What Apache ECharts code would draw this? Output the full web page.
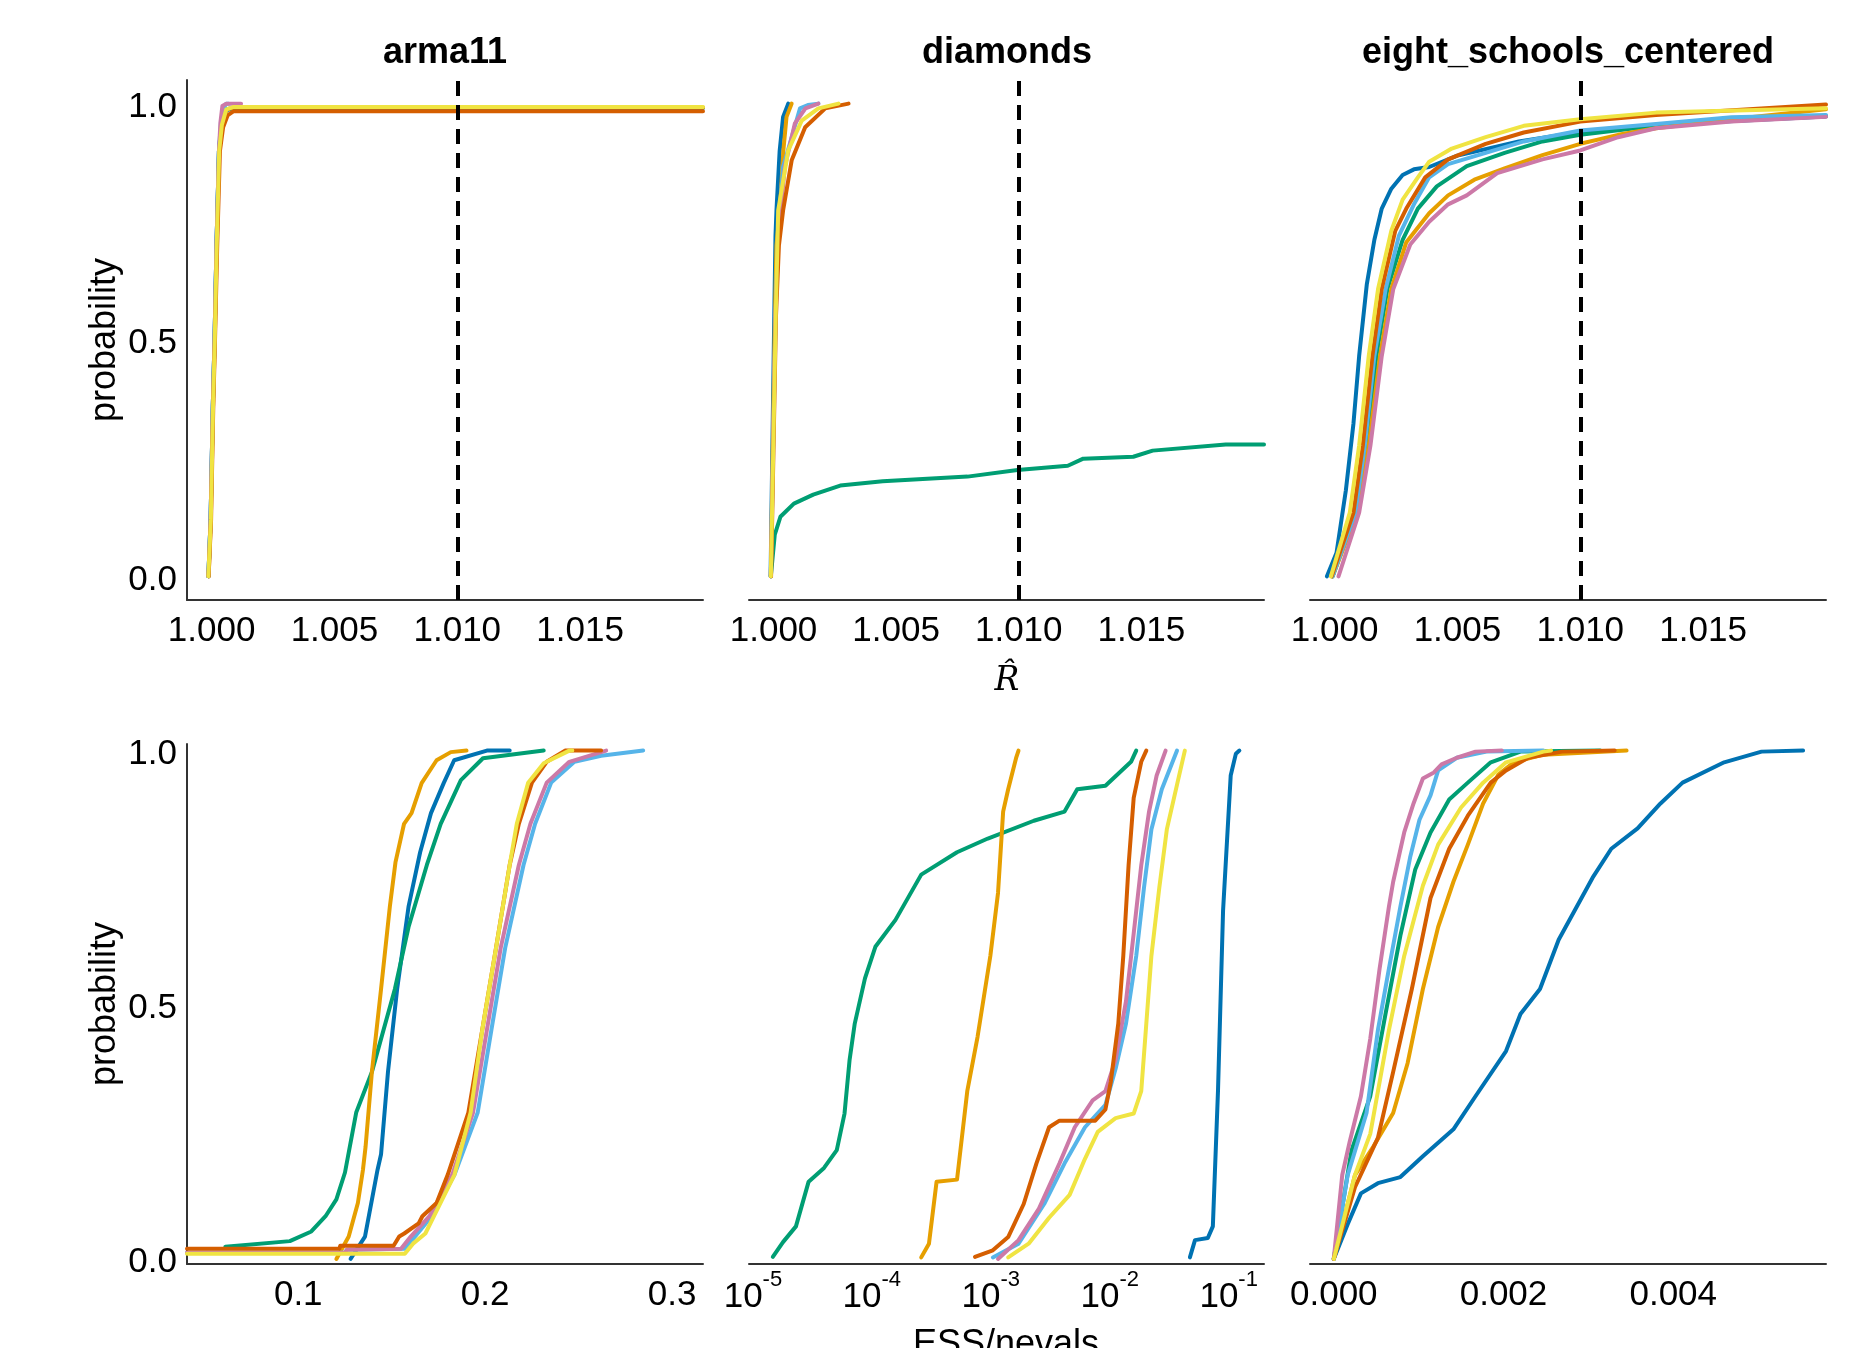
<!DOCTYPE html>
<html><head><meta charset="utf-8">
<script src="https://cdn.jsdelivr.net/npm/echarts/dist/echarts.min.js"></script>
<style>html,body{margin:0;padding:0;background:#fff;}#c{width:1869px;height:1348px;}</style>
</head><body><div id="c"></div><script>
// ---------- DATA (ECDF curves) ----------
const panelTitles = ['arma11', 'diamonds', 'eight_schools_centered'];
const rhatThreshold = 1.01;
const rhatTicks = [1.000, 1.005, 1.010, 1.015];
const essArmaTicks = [0.1, 0.2, 0.3];
const essDiamondsTicks = [1e-5, 1e-4, 1e-3, 1e-2, 1e-1];
const essEightTicks = [0, 0.002, 0.004];
const probTicks = [0, 0.5, 1.0];

// R-hat, arma11
const rhat_arma11_blue = [[0.99987,0],[0.99996,0.12],[1.00005,0.36],[1.00012,0.5],[1.0002,0.7],[1.0003,0.9],[1.0004,0.955],[1.00058,0.985],[1.0009,0.991],[1.02,0.991]];
const rhat_arma11_green = [[0.99987,0],[0.99996,0.12],[1.00005,0.36],[1.00012,0.5],[1.0002,0.7],[1.0003,0.9],[1.0004,0.955],[1.0006,0.988],[1.0009,0.991],[1.0021,0.991]];
const rhat_arma11_orange = [[0.99988,0],[0.99997,0.12],[1.00006,0.36],[1.00013,0.5],[1.00021,0.7],[1.00031,0.9],[1.00041,0.955],[1.0006,0.987],[1.0009,0.992],[1.02,0.992]];
const rhat_arma11_sky = [[0.99987,0],[0.99996,0.12],[1.00005,0.36],[1.00012,0.5],[1.0002,0.7],[1.0003,0.9],[1.00038,0.96],[1.00048,0.99],[1.0006,1.0],[1.0007,1.0]];
const rhat_arma11_pink = [[0.99987,0],[0.99996,0.12],[1.00005,0.36],[1.00012,0.5],[1.0002,0.7],[1.0003,0.9],[1.00036,0.96],[1.00044,0.995],[1.0006,1.0],[1.0012,1.0]];
const rhat_arma11_red = [[0.99988,0],[0.99998,0.12],[1.00007,0.36],[1.00014,0.5],[1.00023,0.7],[1.00034,0.9],[1.00047,0.95],[1.00065,0.975],[1.0009,0.984],[1.02,0.984]];
const rhat_arma11_yellow = [[0.99987,0],[0.99997,0.12],[1.00006,0.36],[1.00013,0.5],[1.00021,0.7],[1.00031,0.9],[1.00042,0.955],[1.0006,0.988],[1.0009,0.993],[1.02,0.993]];

// R-hat, diamonds
const rhat_diamonds_blue = [[0.99988,0],[0.99996,0.3],[1.00003,0.55],[1.00008,0.72],[1.00012,0.774],[1.00025,0.9],[1.00039,0.972],[1.0006,1.0]];
const rhat_diamonds_green = [[0.99989,0],[1.00005,0.088],[1.00028,0.126],[1.00083,0.154],[1.00162,0.173],[1.00272,0.192],[1.00445,0.201],[1.00791,0.211],[1.00995,0.225],[1.012,0.234],[1.01263,0.249],[1.01467,0.253],[1.01546,0.266],[1.01844,0.279],[1.02,0.279]];
const rhat_diamonds_orange = [[0.99989,0],[0.99998,0.3],[1.00006,0.55],[1.00012,0.7],[1.00026,0.774],[1.0004,0.9],[1.00053,0.972],[1.00074,1.0]];
const rhat_diamonds_sky = [[0.99989,0],[0.99999,0.3],[1.00008,0.55],[1.00018,0.72],[1.00039,0.866],[1.00074,0.929],[1.00108,0.99],[1.0014,0.997],[1.00183,1.0]];
const rhat_diamonds_pink = [[0.99989,0],[0.99999,0.3],[1.00008,0.55],[1.0002,0.72],[1.00046,0.866],[1.00087,0.958],[1.0013,0.99],[1.00183,1.0]];
const rhat_diamonds_red = [[0.9999,0],[1.00001,0.3],[1.0001,0.55],[1.00022,0.7],[1.00039,0.774],[1.00074,0.88],[1.00129,0.95],[1.00211,0.99],[1.00306,1.0]];
const rhat_diamonds_yellow = [[0.99989,0],[1.0,0.3],[1.00009,0.55],[1.00019,0.774],[1.0006,0.901],[1.00115,0.964],[1.00183,0.99],[1.00265,1.0]];

// R-hat, eight_schools_centered
const rhat_eight_blue = [[0.99969,0],[1.00008,0.05],[1.00046,0.182],[1.00077,0.324],[1.001,0.466],[1.00131,0.617],[1.00162,0.712],[1.00192,0.778],[1.00231,0.82],[1.00277,0.849],[1.00323,0.861],[1.00385,0.866],[1.005,0.89],[1.0075,0.92],[1.01,0.94],[1.0125,0.952],[1.015,0.96],[1.02,0.973]];
const rhat_eight_green = [[0.99992,0],[1.00085,0.135],[1.00131,0.277],[1.0017,0.466],[1.00215,0.608],[1.00277,0.712],[1.00339,0.778],[1.00416,0.825],[1.00538,0.868],[1.00692,0.896],[1.00846,0.92],[1.01,0.934],[1.01308,0.953],[1.01615,0.967],[1.02,0.974]];
const rhat_eight_orange = [[0.99992,0],[1.00093,0.135],[1.00139,0.277],[1.00185,0.466],[1.00231,0.608],[1.00292,0.707],[1.00385,0.768],[1.00462,0.806],[1.00569,0.839],[1.00692,0.863],[1.00846,0.891],[1.01,0.915],[1.01154,0.934],[1.01308,0.948],[1.01615,0.967],[1.02,0.988]];
const rhat_eight_sky = [[0.99992,0],[1.00085,0.135],[1.00123,0.277],[1.00162,0.466],[1.00208,0.608],[1.00262,0.721],[1.00323,0.787],[1.00385,0.844],[1.00462,0.872],[1.00615,0.896],[1.0077,0.92],[1.01,0.943],[1.01308,0.957],[1.01615,0.971],[1.02,0.976]];
const rhat_eight_pink = [[1.00016,0],[1.001,0.135],[1.00146,0.277],[1.00192,0.466],[1.00239,0.608],[1.00308,0.702],[1.00385,0.75],[1.00462,0.787],[1.00538,0.806],[1.00662,0.853],[1.00846,0.882],[1.01,0.901],[1.01154,0.929],[1.01308,0.948],[1.01615,0.962],[1.02,0.972]];
const rhat_eight_red = [[0.99988,0],[1.00077,0.135],[1.00115,0.277],[1.00154,0.466],[1.00192,0.608],[1.00247,0.731],[1.00292,0.778],[1.00369,0.844],[1.00462,0.882],[1.00615,0.915],[1.0077,0.939],[1.01,0.962],[1.01308,0.976],[1.02,0.998]];
const rhat_eight_yellow = [[0.99985,0],[1.00062,0.135],[1.001,0.277],[1.00139,0.466],[1.00177,0.608],[1.00231,0.731],[1.00277,0.797],[1.00339,0.844],[1.00385,0.877],[1.00477,0.905],[1.00615,0.929],[1.0077,0.953],[1.01,0.967],[1.01308,0.981],[1.02,0.99]];

// ESS/nevals, arma11
const ess_arma11_blue = [[0.128,0],[0.1357,0.044],[0.1424,0.175],[0.1443,0.206],[0.148,0.368],[0.1529,0.531],[0.159,0.693],[0.1652,0.8],[0.171,0.877],[0.1778,0.936],[0.1834,0.981],[0.2009,1.0],[0.2131,1.0]];
const ess_arma11_green = [[0.061,0.024],[0.0955,0.035],[0.107,0.054],[0.1146,0.084],[0.1204,0.117],[0.125,0.17],[0.131,0.288],[0.1394,0.368],[0.1517,0.531],[0.159,0.653],[0.1688,0.775],[0.1762,0.856],[0.187,0.942],[0.1988,0.985],[0.2313,1.0]];
const ess_arma11_orange = [[0.1204,0],[0.127,0.044],[0.1319,0.11],[0.1346,0.175],[0.136,0.22],[0.1394,0.368],[0.1443,0.531],[0.149,0.693],[0.152,0.78],[0.1566,0.856],[0.1606,0.877],[0.166,0.936],[0.174,0.981],[0.1816,0.997],[0.19,1.0]];
const ess_arma11_sky = [[0.0405,0.012],[0.125,0.012],[0.126,0.018],[0.157,0.02],[0.1625,0.044],[0.1714,0.084],[0.1836,0.166],[0.196,0.288],[0.2033,0.45],[0.2107,0.612],[0.2205,0.775],[0.2267,0.856],[0.2353,0.937],[0.2477,0.978],[0.262,0.99],[0.2845,1.0]];
const ess_arma11_pink = [[0.0405,0.012],[0.125,0.012],[0.126,0.018],[0.155,0.02],[0.1602,0.044],[0.1702,0.084],[0.1824,0.166],[0.1935,0.288],[0.2009,0.45],[0.2083,0.612],[0.218,0.775],[0.2242,0.856],[0.2329,0.937],[0.245,0.978],[0.2647,1.0]];
const ess_arma11_red = [[0.0405,0.02],[0.122,0.02],[0.1225,0.026],[0.151,0.026],[0.154,0.044],[0.1567,0.05],[0.1644,0.07],[0.1664,0.084],[0.174,0.11],[0.18,0.166],[0.191,0.288],[0.1984,0.45],[0.2058,0.612],[0.2131,0.775],[0.218,0.856],[0.225,0.937],[0.2329,0.978],[0.2427,1.0],[0.262,1.0]];
const ess_arma11_yellow = [[0.0405,0.01],[0.157,0.01],[0.1614,0.03],[0.168,0.05],[0.1726,0.084],[0.1836,0.166],[0.1922,0.288],[0.1984,0.45],[0.2058,0.612],[0.2131,0.775],[0.2169,0.856],[0.223,0.937],[0.2313,0.975],[0.245,1.0],[0.2466,1.0]];

// ESS/nevals, diamonds (raw values, shown on a log10 scale)
const ess_diamonds_blue = [[4.72e-2,0.003],[5.21e-2,0.037],[6.68e-2,0.041],[7.36e-2,0.064],[8.13e-2,0.33],[8.97e-2,0.685],[0.104,0.951],[0.115,0.994],[0.123,1.0]];
const ess_diamonds_green = [[1.47e-5,0.004],[1.79e-5,0.033],[2.30e-5,0.064],[2.94e-5,0.152],[3.96e-5,0.179],[5.07e-5,0.214],[5.89e-5,0.286],[6.50e-5,0.392],[7.18e-5,0.463],[8.75e-5,0.552],[1.07e-4,0.614],[1.58e-4,0.667],[2.60e-4,0.756],[5.20e-4,0.8],[9.44e-4,0.827],[2.30e-3,0.862],[4.17e-3,0.88],[5.33e-3,0.924],[9.20e-3,0.931],[1.51e-2,0.978],[1.67e-2,1.0]];
const ess_diamonds_orange = [[2.60e-4,0.003],[3.02e-4,0.03],[3.50e-4,0.152],[5.20e-4,0.156],[6.34e-4,0.33],[7.74e-4,0.437],[9.91e-4,0.596],[1.15e-3,0.72],[1.27e-3,0.88],[1.40e-3,0.924],[1.63e-3,0.985],[1.71e-3,1.0]];
const ess_diamonds_sky = [[1.04e-3,0.003],[1.71e-3,0.03],[2.81e-3,0.108],[4.17e-3,0.188],[6.19e-3,0.259],[9.20e-3,0.303],[1.12e-2,0.374],[1.37e-2,0.463],[1.67e-2,0.596],[1.94e-2,0.73],[2.24e-2,0.845],[2.74e-2,0.924],[3.68e-2,1.0]];
const ess_diamonds_pink = [[1.15e-3,0.0],[1.71e-3,0.037],[2.54e-3,0.099],[3.78e-3,0.188],[5.08e-3,0.259],[7.18e-3,0.312],[9.20e-3,0.33],[1.12e-2,0.392],[1.37e-2,0.507],[1.59e-2,0.64],[1.84e-2,0.774],[2.14e-2,0.88],[2.48e-2,0.951],[2.95e-2,1.0]];
const ess_diamonds_red = [[7.36e-4,0.004],[1.04e-3,0.017],[1.40e-3,0.043],[1.89e-3,0.108],[2.42e-3,0.188],[3.09e-3,0.259],[3.78e-3,0.272],[7.55e-3,0.272],[9.20e-3,0.294],[1.02e-2,0.348],[1.18e-2,0.463],[1.30e-2,0.596],[1.44e-2,0.774],[1.59e-2,0.907],[1.84e-2,0.978],[2.03e-2,1.0]];
const ess_diamonds_yellow = [[1.40e-3,0.003],[2.08e-3,0.03],[3.09e-3,0.081],[4.60e-3,0.126],[6.19e-3,0.197],[7.93e-3,0.25],[1.12e-2,0.277],[1.59e-2,0.286],[1.84e-2,0.33],[2.03e-2,0.463],[2.24e-2,0.596],[2.61e-2,0.73],[3.02e-2,0.845],[3.68e-2,0.933],[4.28e-2,1.0]];

// ESS/nevals, eight_schools_centered
const ess_eight_blue = [[0,0],[0.000164,0.068],[0.00032,0.129],[0.00052,0.149],[0.000785,0.161],[0.00105,0.202],[0.00141,0.255],[0.00167,0.32],[0.00203,0.409],[0.0022,0.482],[0.00243,0.531],[0.00265,0.628],[0.00305,0.75],[0.00327,0.807],[0.00358,0.847],[0.00385,0.896],[0.00411,0.937],[0.0046,0.977],[0.00504,0.998],[0.00553,1.0]];
const ess_eight_green = [[0,0],[0.00021,0.214],[0.00043,0.32],[0.00061,0.482],[0.000785,0.636],[0.00096,0.766],[0.00114,0.839],[0.00136,0.904],[0.00158,0.937],[0.00185,0.977],[0.0022,0.998],[0.00314,1.0]];
const ess_eight_orange = [[0,0],[0.00025,0.165],[0.00047,0.222],[0.0007,0.287],[0.00087,0.385],[0.00105,0.531],[0.00123,0.653],[0.00141,0.742],[0.00158,0.815],[0.00176,0.896],[0.00194,0.953],[0.00212,0.977],[0.00247,0.992],[0.00345,1.0]];
const ess_eight_sky = [[0,0],[0.000164,0.165],[0.000386,0.287],[0.00052,0.45],[0.00065,0.571],[0.000785,0.693],[0.0009,0.79],[0.00101,0.864],[0.00114,0.912],[0.00123,0.961],[0.00145,0.986],[0.0018,0.998],[0.00247,1.0]];
const ess_eight_pink = [[0,0],[0.0001,0.165],[0.000187,0.23],[0.00032,0.32],[0.00043,0.433],[0.00054,0.571],[0.00065,0.693],[0.0007,0.742],[0.00083,0.839],[0.00094,0.896],[0.00105,0.945],[0.00118,0.957],[0.00127,0.973],[0.00145,0.986],[0.00167,0.998],[0.00198,1.0]];
const ess_eight_red = [[0,0],[0.00025,0.141],[0.00052,0.238],[0.0007,0.368],[0.00092,0.531],[0.00114,0.71],[0.00136,0.807],[0.00158,0.872],[0.00185,0.937],[0.00203,0.961],[0.00229,0.986],[0.00269,0.998],[0.00331,1.0]];
const ess_eight_yellow = [[0,0],[0.00025,0.165],[0.00043,0.246],[0.00065,0.45],[0.00083,0.596],[0.00105,0.734],[0.00123,0.815],[0.0015,0.888],[0.00176,0.937],[0.00203,0.977],[0.00247,0.998],[0.00256,1.0]];

// ---------- STYLE / LAYOUT ----------
const FONT = '"Liberation Sans", Arial, Helvetica, sans-serif';
const COLORS = {blue:'#0072B2', green:'#009E73', orange:'#E69F00', sky:'#56B4E9', pink:'#CC79A7', red:'#D55E00', yellow:'#F0E442'};
const ORDER = ['blue','green','orange','sky','pink','red','yellow'];
const TICK_FS = 35;

const panels = [
  {left:187, top:80, width:516, height:520, xmin:0.999, xmax:1.02, ymin:-0.05, ymax:1.05, ticks:rhatTicks, fmt:v=>v.toFixed(3), showY:true, vline:true, log:false,
   curves:{blue:rhat_arma11_blue, green:rhat_arma11_green, orange:rhat_arma11_orange, sky:rhat_arma11_sky, pink:rhat_arma11_pink, red:rhat_arma11_red, yellow:rhat_arma11_yellow}},
  {left:749, top:80, width:515, height:520, xmin:0.999, xmax:1.02, ymin:-0.05, ymax:1.05, ticks:rhatTicks, fmt:v=>v.toFixed(3), showY:false, vline:true, log:false,
   curves:{blue:rhat_diamonds_blue, green:rhat_diamonds_green, orange:rhat_diamonds_orange, sky:rhat_diamonds_sky, pink:rhat_diamonds_pink, red:rhat_diamonds_red, yellow:rhat_diamonds_yellow}},
  {left:1310, top:80, width:516, height:520, xmin:0.999, xmax:1.02, ymin:-0.05, ymax:1.05, ticks:rhatTicks, fmt:v=>v.toFixed(3), showY:false, vline:true, log:false,
   curves:{blue:rhat_eight_blue, green:rhat_eight_green, orange:rhat_eight_orange, sky:rhat_eight_sky, pink:rhat_eight_pink, red:rhat_eight_red, yellow:rhat_eight_yellow}},
  {left:187, top:744, width:516, height:520, xmin:0.0405, xmax:0.3165, ymin:-0.01, ymax:1.013, ticks:essArmaTicks, fmt:v=>v.toFixed(1), showY:true, vline:false, log:false,
   curves:{blue:ess_arma11_blue, green:ess_arma11_green, orange:ess_arma11_orange, sky:ess_arma11_sky, pink:ess_arma11_pink, red:ess_arma11_red, yellow:ess_arma11_yellow}},
  {left:749, top:744, width:515, height:520, xmin:-5.033, xmax:-0.703, ymin:-0.01, ymax:1.013, ticks:essDiamondsTicks.map(Math.log10), fmt:v=>'{b|10}{s|' + Math.round(v) + '}', showY:false, vline:false, log:true,
   curves:{blue:ess_diamonds_blue, green:ess_diamonds_green, orange:ess_diamonds_orange, sky:ess_diamonds_sky, pink:ess_diamonds_pink, red:ess_diamonds_red, yellow:ess_diamonds_yellow}},
  {left:1310, top:744, width:516, height:520, xmin:-0.00028, xmax:0.0058, ymin:-0.01, ymax:1.013, ticks:essEightTicks, fmt:v=>v.toFixed(3), showY:false, vline:false, log:false,
   curves:{blue:ess_eight_blue, green:ess_eight_green, orange:ess_eight_orange, sky:ess_eight_sky, pink:ess_eight_pink, red:ess_eight_red, yellow:ess_eight_yellow}}
];

const grid = [], xAxis = [], yAxis = [], series = [];
panels.forEach((p, i) => {
  grid.push({left:p.left, top:p.top, width:p.width, height:p.height, containLabel:false});
  xAxis.push({
    type:'value', gridIndex:i, min:p.xmin, max:p.xmax,
    axisLine:{show:true, onZero:false, lineStyle:{color:'#333', width:2}},
    axisTick:{show:false}, splitLine:{show:false},
    axisLabel:{
      customValues:p.ticks, formatter:p.fmt, color:'#000', fontFamily:FONT, fontSize:TICK_FS,
      margin: p.log ? 5 : 14, showMinLabel:true, showMaxLabel:true,
      rich: p.log ? {
        b:{fontSize:TICK_FS, fontFamily:FONT, color:'#000', lineHeight:46, verticalAlign:'bottom'},
        s:{fontSize:22, fontFamily:FONT, color:'#000', lineHeight:20, verticalAlign:'top'}
      } : undefined
    }
  });
  yAxis.push({
    type:'value', gridIndex:i, min:p.ymin, max:p.ymax,
    axisLine:{show:p.showY, onZero:false, lineStyle:{color:'#333', width:2}},
    axisTick:{show:false}, splitLine:{show:false},
    axisLabel:{show:p.showY, customValues:probTicks, formatter:v=>v.toFixed(1), color:'#000', fontFamily:FONT, fontSize:TICK_FS, margin:10, verticalAlign:'top', lineHeight:7},
    name: p.showY ? 'probability' : '', nameLocation:'middle', nameGap:64, nameRotate:90,
    nameTextStyle:{color:'#000', fontFamily:FONT, fontSize:36}
  });
  ORDER.forEach((key, k) => {
    const raw = p.curves[key];
    const data = p.log ? raw.map(d => [Math.log10(d[0]), d[1]]) : raw;
    const s = {
      type:'line', xAxisIndex:i, yAxisIndex:i, data:data, showSymbol:false, symbol:'none',
      smooth:false, animation:false, silent:true, clip:true,
      lineStyle:{color:COLORS[key], width:4, cap:'round', join:'round'},
      itemStyle:{color:COLORS[key]}, z:2+k
    };
    if (p.vline && k === ORDER.length - 1) {
      s.markLine = {
        silent:true, symbol:['none','none'], animation:false, z:20,
        label:{show:false},
        lineStyle:{color:'#000', width:4, type:[15,9]},
        data:[{xAxis:rhatThreshold}]
      };
    }
    series.push(s);
  });
});

const graphic = [];
const titleCenters = [445, 1007, 1568];
panelTitles.forEach((t, i) => {
  graphic.push({type:'text', x:titleCenters[i], y:53, silent:true,
    style:{text:t, fill:'#000', font:'bold 36px ' + FONT, align:'center', verticalAlign:'middle', textAlign:'center', textVerticalAlign:'middle'}});
});
graphic.push({type:'text', x:1007, y:681, silent:true,
  style:{text:'R\u0302', fill:'#000', font:'italic 33px "DejaVu Serif", "Liberation Serif", serif', align:'center', verticalAlign:'middle', textAlign:'center', textVerticalAlign:'middle'}});
graphic.push({type:'text', x:1006, y:1345, silent:true,
  style:{text:'ESS/nevals', fill:'#000', font:'36px ' + FONT, align:'center', verticalAlign:'middle', textAlign:'center', textVerticalAlign:'middle'}});

const chart = echarts.init(document.getElementById('c'), null, {renderer:'canvas'});
chart.setOption({backgroundColor:'#fff', animation:false, grid, xAxis, yAxis, series, graphic});
</script></body></html>
